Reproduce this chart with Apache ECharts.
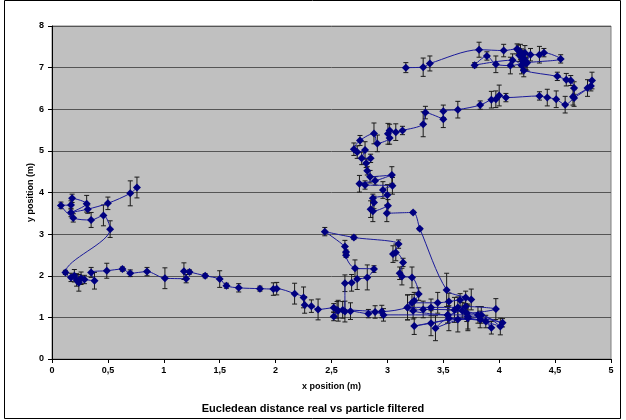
<!DOCTYPE html>
<html>
<head>
<meta charset="utf-8">
<script src="https://cdn.jsdelivr.net/npm/echarts@6/dist/echarts.min.js"></script>
<style>
	html, body{
		margin: 0;
		padding: 0;
		background: #fff;
	}
	#main{
		width: 626px;
		height: 420px;
	}
</style>
</head>
<body>
<div id="main"></div>
<script type="text/javascript">
// trajectory, in the order it is drawn
var xPos = [
	3.165, 3.32, 3.38, 3.82, 4.04, 4.16, 4.19, 4.22, 4.18, 4.21, 4.17, 4.23, 4.20, 4.24, 4.28, 4.36, 4.40, 4.55, 4.25, 4.10,
	3.97, 3.89, 3.78, 4.12, 4.20, 4.22,
	4.52, 4.60, 4.64, 4.67, 4.66, 4.79, 4.83, 4.82, 4.67, 4.59, 4.51, 4.43, 4.36, 4.06, 4.00, 3.97, 3.93, 3.83, 3.63, 3.50,
	3.50, 3.34, 3.32, 3.135, 3.075, 3.02, 3.005, 3.02, 2.91, 2.88, 2.755, 2.70, 2.73, 2.80, 2.77, 2.85, 2.81, 2.82, 2.845, 3.04,
	2.89, 2.75, 2.80, 3.045, 2.96, 3.00, 2.87, 2.88, 2.85, 2.87, 3.005, 2.995, 3.23, 3.29, 3.53, 3.70, 3.75, 3.65, 3.55, 3.45,
	3.22, 3.18, 3.39, 3.63, 3.70, 3.97, 3.71, 3.60, 3.32, 3.23, 3.54, 3.67, 3.81, 4.03, 3.72, 3.39, 3.24, 3.63, 3.83, 3.93,
	3.88, 3.55, 3.43, 3.72, 4.01, 3.84, 3.54, 2.965, 2.89, 2.83, 2.67, 2.62, 2.62, 2.68, 2.73, 2.82, 2.88, 2.71, 2.63, 2.63,
	2.62, 2.44, 2.70, 3.10, 3.05, 3.075, 3.14, 3.11, 3.13, 3.22, 3.28, 3.24, 3.18, 2.95, 2.60, 2.56, 2.52, 2.55, 2.52, 2.38,
	2.32, 2.26, 2.25, 2.17, 2.01, 1.98, 1.86, 1.67, 1.56, 1.50, 1.37, 1.23, 1.18, 1.20, 1.01, 0.85, 0.70, 0.63, 0.49, 0.35,
	0.38, 0.29, 0.26, 0.24, 0.22, 0.20, 0.17, 0.12, 0.52, 0.46, 0.35, 0.19, 0.08, 0.17, 0.18, 0.31, 0.17, 0.32, 0.50, 0.70,
	0.76
];
var yPos = [
	7.00, 7.01, 7.10, 7.43, 7.41, 7.45, 7.38, 7.22, 7.30, 7.15, 7.42, 7.35, 7.25, 7.10, 7.31, 7.31, 7.36, 7.21, 7.12, 7.05,
	7.08, 7.28, 7.06, 7.18, 7.05, 6.93,
	6.79, 6.71, 6.69, 6.51, 6.30, 6.51, 6.69, 6.56, 6.27, 6.11, 6.24, 6.28, 6.32, 6.28, 6.33, 6.24, 6.23, 6.10, 5.99, 5.95,
	5.76, 5.92, 5.64, 5.49, 5.45, 5.49, 5.41, 5.31, 5.18, 5.42, 5.25, 5.04, 4.97, 5.02, 4.82, 4.82, 4.70, 4.52, 4.38, 4.42,
	4.28, 4.21, 4.18, 4.16, 4.06, 3.94, 3.86, 3.76, 3.60, 3.55, 3.68, 3.50, 3.52, 3.13, 1.66, 1.48, 1.43, 1.42, 1.38, 1.35,
	1.35, 1.24, 1.24, 1.24, 1.26, 1.20, 1.10, 1.18, 1.19, 1.16, 1.06, 1.16, 1.06, 0.87, 1.02, 0.86, 0.79, 0.95, 0.95, 0.75,
	0.90, 0.98, 0.74, 0.98, 0.78, 1.06, 1.06, 1.06, 1.13, 1.09, 1.15, 1.14, 1.82, 1.83, 1.92, 1.96, 2.16, 2.18, 2.49, 2.57,
	2.70, 3.06, 2.92, 2.76, 2.52, 2.56, 2.32, 2.06, 1.98, 1.96, 1.56, 1.40, 1.24, 1.14, 1.18, 1.16, 1.02, 1.18, 1.23, 1.19,
	1.27, 1.30, 1.48, 1.57, 1.69, 1.68, 1.69, 1.71, 1.76, 1.92, 2.00, 2.09, 2.11, 1.93, 1.94, 2.10, 2.06, 2.16, 2.12, 2.08,
	1.88, 1.91, 1.94, 1.83, 1.90, 2.00, 1.96, 2.08, 3.12, 3.45, 3.34, 3.39, 3.69, 3.70, 3.86, 3.73, 3.52, 3.60, 3.74, 3.98,
	4.12
];
// half length of each error bar (m)
var yErr = [
	0.12, 0.22, 0.18, 0.18, 0.15, 0.12, 0.18, 0.20, 0.15, 0.20, 0.12, 0.18, 0.20, 0.15, 0.15, 0.20, 0.10, 0.10, 0.20, 0.20,
	0.20, 0.10, 0.06, 0.15, 0.20, 0.15,
	0.10, 0.15, 0.12, 0.15, 0.20, 0.20, 0.20, 0.12, 0.20, 0.20, 0.20, 0.20, 0.10, 0.10, 0.25, 0.20, 0.20, 0.10, 0.20, 0.15,
	0.20, 0.15, 0.30, 0.10, 0.20, 0.15, 0.25, 0.15, 0.20, 0.25, 0.12, 0.15, 0.15, 0.20, 0.15, 0.10, 0.10, 0.10, 0.15, 0.20,
	0.10, 0.20, 0.10, 0.20, 0.20, 0.25, 0.10, 0.15, 0.20, 0.25, 0.15, 0.20, 0.03, 0.03, 0.40, 0.15, 0.25, 0.15, 0.20, 0.25,
	0.20, 0.30, 0.20, 0.25, 0.20, 0.25, 0.20, 0.30, 0.20, 0.20, 0.20, 0.20, 0.20, 0.10, 0.30, 0.30, 0.20, 0.30, 0.20, 0.15,
	0.15, 0.30, 0.30, 0.30, 0.20, 0.20, 0.20, 0.15, 0.15, 0.10, 0.20, 0.25, 0.20, 0.20, 0.25, 0.30, 0.08, 0.20, 0.05, 0.05,
	0.15, 0.10, 0.05, 0.10, 0.20, 0.20, 0.10, 0.15, 0.20, 0.25, 0.15, 0.20, 0.30, 0.15, 0.20, 0.25, 0.10, 0.20, 0.10, 0.25,
	0.15, 0.20, 0.25, 0.25, 0.15, 0.15, 0.06, 0.10, 0.06, 0.20, 0.05, 0.05, 0.20, 0.10, 0.25, 0.10, 0.08, 0.05, 0.18, 0.12,
	0.20, 0.10, 0.15, 0.20, 0.15, 0.15, 0.10, 0.05, 0.20, 0.25, 0.18, 0.10, 0.08, 0.10, 0.10, 0.20, 0.10, 0.10, 0.15, 0.30,
	0.25
];
var xTicks = [0, 0.5, 1, 1.5, 2, 2.5, 3, 3.5, 4, 4.5, 5];
var yTicks = [0, 1, 2, 3, 4, 5, 6, 7, 8];

var font = '"Liberation Sans", Arial, sans-serif';
var points = [];
var bars = [];
for(var i=0;i<xPos.length;i++){
	points.push([xPos[i], yPos[i]]);
	bars.push([xPos[i], yPos[i] - yErr[i], yPos[i] + yErr[i]]);
}

var myChart = echarts.init(document.getElementById('main'));
var option = {
	animation: false,
	backgroundColor: '#fff',
	title: {
		text: 'Eucledean distance real vs particle filtered',
		left: 'center',
		top: 398,
		textStyle: {fontFamily: font, fontSize: 11, fontWeight: 'bold', color: '#000'}
	},
	graphic: [{
		type: 'rect',
		shape: {x: 4.5, y: 0.5, width: 616, height: 418},
		style: {fill: 'none', stroke: '#000', lineWidth: 1},
		silent: true
	}],
	grid: {
		left: 52, right: 15, top: 26, bottom: 61,
		show: true,
		backgroundColor: '#c0c0c0',
		borderColor: '#808080',
		borderWidth: 1
	},
	xAxis: {
		type: 'value',
		min: xTicks[0],
		max: xTicks[xTicks.length - 1],
		interval: 0.5,
		name: 'x position (m)',
		nameLocation: 'middle',
		nameGap: 23,
		nameMoveOverlap: false,
		nameTextStyle: {fontFamily: font, fontSize: 9, fontWeight: 'bold', color: '#000'},
		axisLine: {show: true, lineStyle: {color: '#000', width: 1}},
		axisTick: {show: true, length: 4, inside: false, lineStyle: {color: '#000'}},
		axisLabel: {
			fontFamily: font, fontSize: 9, fontWeight: 'bold', color: '#000', margin: 7,
			formatter: function(v){ return String(v).replace('.', ','); }
		},
		splitLine: {show: false}
	},
	yAxis: {
		type: 'value',
		min: yTicks[0],
		max: yTicks[yTicks.length - 1],
		interval: 1,
		name: 'y position (m)',
		nameLocation: 'middle',
		nameGap: 17,
		nameRotate: 90,
		nameMoveOverlap: false,
		nameTextStyle: {fontFamily: font, fontSize: 9, fontWeight: 'bold', color: '#000'},
		axisLine: {show: true, lineStyle: {color: '#000', width: 1}},
		axisTick: {show: true, length: 4, lineStyle: {color: '#000'}},
		axisLabel: {fontFamily: font, fontSize: 9, fontWeight: 'bold', color: '#000', margin: 8},
		splitLine: {show: true, lineStyle: {color: '#555', width: 1}}
	},
	series: [
		{
			// error bars
			type: 'custom',
			z: 2,
			data: bars,
			renderItem: function(params, api){
				var top = api.coord([api.value(0), api.value(2)]);
				var bot = api.coord([api.value(0), api.value(1)]);
				var c = 2.5;
				var st = {stroke: '#1a1a1a', lineWidth: 1};
				return {
					type: 'group',
					children: [
						{type: 'line', shape: {x1: top[0], y1: top[1], x2: bot[0], y2: bot[1]}, style: st},
						{type: 'line', shape: {x1: top[0]-c, y1: top[1], x2: top[0]+c, y2: top[1]}, style: st},
						{type: 'line', shape: {x1: bot[0]-c, y1: bot[1], x2: bot[0]+c, y2: bot[1]}, style: st}
					]
				};
			}
		},
		{
			type: 'line',
			z: 3,
			data: points,
			smooth: 0.3,
			symbol: 'diamond',
			symbolSize: 8,
			lineStyle: {color: '#1a1a9a', width: 1},
			itemStyle: {color: '#000080'}
		}
	]
};
myChart.setOption(option);
</script>
</body>
</html>
